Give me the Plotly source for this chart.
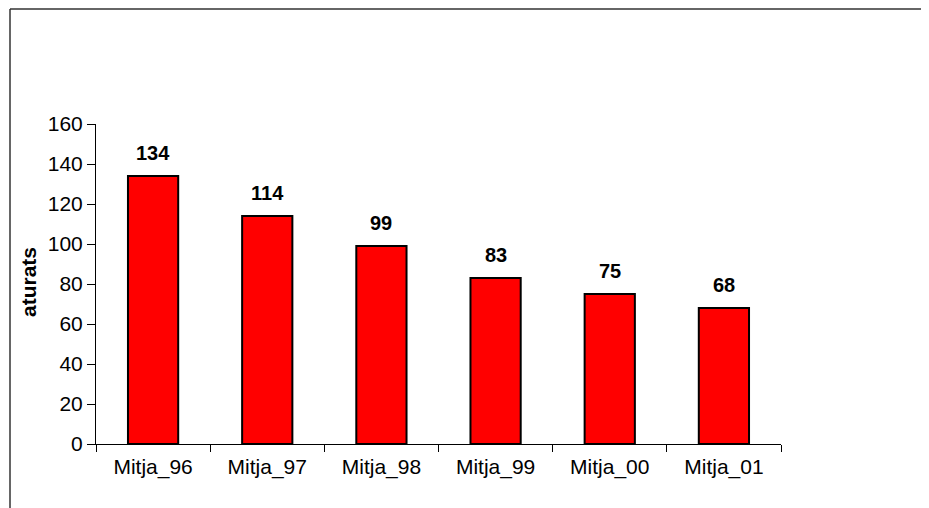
import plotly.graph_objects as go

categories = ["Mitja_96", "Mitja_97", "Mitja_98", "Mitja_99", "Mitja_00", "Mitja_01"]
aturats = [134, 114, 99, 83, 75, 68]
y_ticks = [0, 20, 40, 60, 80, 100, 120, 140, 160]

# page has an 8px body margin, so the figure is drawn 8px in from the corner
OFF = 8
W, H = 929 - OFF, 508 - OFF
L, R, T, B = 96 - OFF, 148, 124 - OFF, 64
pw, ph = W - L - R, H - T - B

FONT = "Liberation Sans, Arial"

fig = go.Figure()
fig.add_trace(go.Bar(
    x=categories, y=aturats,
    marker=dict(color="#ff0000", line=dict(color="#000000", width=2)),
    width=0.44,
    hoverinfo="x+y",
))

# value labels above bars
for c, v in zip(categories, aturats):
    fig.add_annotation(x=c, y=v, text=f"<b>{v}</b>", showarrow=False,
                       yanchor="bottom", yshift=10,
                       font=dict(family=FONT, size=20, color="#000"))

# page pixel -> paper coords
px2x = lambda p: (p - OFF - L) / pw
py2y = lambda p: (H - B - (p - OFF)) / ph

# y axis title
fig.add_annotation(xref="paper", yref="paper", x=px2x(28), y=py2y(282),
                   text="<b>aturats</b>", textangle=-90, showarrow=False,
                   xanchor="center", yanchor="middle",
                   font=dict(family=FONT, size=21, color="#000"))

# outer chart frame (only top and left edges are inside the picture)
fig.add_shape(type="line", xref="paper", yref="paper",
              x0=px2x(10), x1=px2x(940), y0=py2y(9), y1=py2y(9),
              line=dict(color="#333333", width=1.5))
fig.add_shape(type="line", xref="paper", yref="paper",
              x0=px2x(10), x1=px2x(10), y0=py2y(9), y1=py2y(520),
              line=dict(color="#333333", width=1.5))

fig.update_layout(
    width=W, height=H,
    margin=dict(l=L, r=R, t=T, b=B),
    paper_bgcolor="white", plot_bgcolor="white",
    font=dict(family=FONT, size=21, color="#000"),
    showlegend=False,
    xaxis=dict(
        showline=True, linecolor="#000", linewidth=1,
        ticks="outside", tickson="boundaries", ticklen=7, tickcolor="#000",
        showgrid=False, ticklabelstandoff=4,
    ),
    yaxis=dict(
        range=[0, 160], tickvals=y_ticks,
        showline=True, linecolor="#000", linewidth=1,
        ticks="outside", ticklen=8, tickcolor="#000",
        showgrid=False, zeroline=False, ticklabelstandoff=0,
    ),
)

fig.write_html("out.html")
